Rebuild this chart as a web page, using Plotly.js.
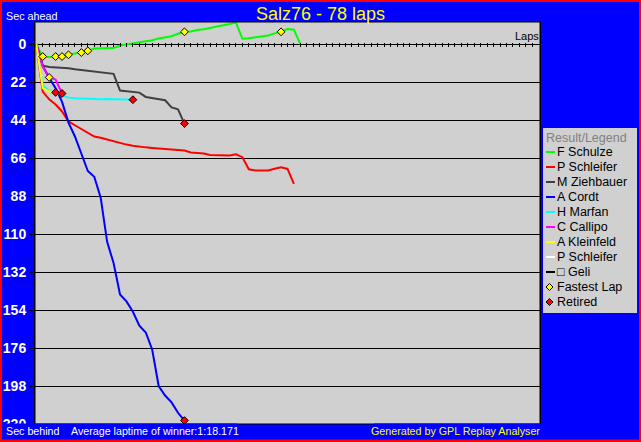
<!DOCTYPE html>
<html><head><meta charset="utf-8">
<script src="https://cdn.plot.ly/plotly-3.0.1.min.js"></script>
<style>html,body{margin:0;padding:0;background:#0000ff;overflow:hidden}#chart{width:641px;height:442px}</style>
</head><body><div id="chart"></div>
<script>
// ---------------- data (seconds behind the winner's average pace, per lap) ----------------
const driverNames  = ["F Schulze","P Schleifer","M Ziehbauer","A Cordt","H Marfan","C Callipo","A Kleinfeld","P Schleifer","\u25A1 Geli"];
const driverColors = ["#00ff00","#ff0000","#404040","#0000ff","#00ffff","#ff00ff","#ffff00","#ffffff","#000000"];

const fSchulze = [0,7.3,7.4,7.2,7.2,6.2,5.5,4.9,3.9,2.6,2.5,2.4,2.3,0.8,0.2,-0.6,-1.2,-1.5,-2.2,-3.3,-4.0,-4.6,-6.0,-7.1,-7.3,-8.2,-8.6,-9.3,-10.0,-10.6,-11.6,-12.5,-3.1,-3.4,-3.8,-4.4,-5.0,-6.2,-7.1,-8.7,-8.3,0];
const pSchleifer = [0,27.5,32,35,39,44.8,47,49.2,51.8,53.5,54.2,55.3,56.2,57.2,58.2,58.8,59.4,59.8,60.1,60.4,60.7,61.0,61.1,61.6,62.8,63.0,63.4,64.2,64.3,64.5,64.5,63.8,65.5,72.5,73.2,73.2,73.2,72.2,71.3,72.3,80.9];
const mZiehbauer = [0,12.5,13.3,13.4,13.5,14.0,14.6,15.1,15.6,16.0,16.4,16.8,17.2,26.9,27.4,27.8,28.1,30.6,31.2,31.7,32.5,36.7,37.8,46.0];
const aCordt     = [0,12.6,19.5,25.5,33.5,45.5,53.5,64,73.5,76.8,89,114.5,126.8,145,149,155,163,167,177,198,203.5,207.5,213.5,218];
const hMarfan    = [0,24,27,28,29.6,31,31.3,31.5,31.8,31.8,32,31.8,32,32.2,32.2,32.2];
const cCallipo   = [0,13,19.3,20.5,28.6];
const aKleinfeld = [0,25.5,27.5,28];
const pSchleifer2 = [0];
const geli       = [0];
const driverSeries = [fSchulze,pSchleifer,mZiehbauer,aCordt,hMarfan,cCallipo,aKleinfeld,pSchleifer2,geli];

const fastestLapLaps = [1,3,4,5,7,8,2,23,38];
const fastestLapSecs = [7.2,7.2,7.2,6.2,4.9,3.9,19.3,-7.1,-7.1];
const retiredLaps = [3,4,15,23,23];
const retiredSecs = [28,28.6,32.2,46,218];

const totalLaps = 78;
const yTickStep = 22;
const titleText = "Salz76 - 78 laps";
const avgLapText = "Average laptime of winner:1:18.171";

// ---------------- geometry ----------------
const W=641,H=442,ML=35,MR=101,MT=22,MB=18;
const PW=W-ML-MR, PH=H-MT-MB;
const px = x => (x-ML)/PW;
const py = y => (H-MB-y)/PH;
const Y0=220, Y1=-12.8;
const FONT = "Liberation Sans, Arial, sans-serif";

// ---------------- traces ----------------
const traces = driverSeries.map((s,i)=>({
  type:'scatter', mode:'lines', name:driverNames[i],
  x:s.map((_,k)=>k), y:s,
  line:{color:driverColors[i], width:2}, showlegend:false, hoverinfo:'skip'
}));
traces.push({type:'scatter',mode:'markers',name:'Fastest Lap',x:fastestLapLaps,y:fastestLapSecs,
  marker:{symbol:'diamond',size:6,color:'#ffff00',line:{color:'#000',width:1}},showlegend:false,hoverinfo:'skip'});
traces.push({type:'scatter',mode:'markers',name:'Retired',x:retiredLaps,y:retiredSecs,
  marker:{symbol:'diamond',size:6,color:'#ff0000',line:{color:'#000',width:1}},showlegend:false,hoverinfo:'skip'});

const lapTicks=[]; for(let l=1;l<totalLaps;l++) lapTicks.push(l);

// ---------------- shapes ----------------
const shapes=[];
const rectPx=(x0,y0,x1,y1,fill)=>({type:'rect',xref:'paper',yref:'paper',layer:'above',x0:px(x0),x1:px(x1),y0:py(y0),y1:py(y1),fillcolor:fill,line:{width:0}});
// plot frame
shapes.push({type:'rect',xref:'paper',yref:'paper',layer:'above',x0:0,x1:1,y0:0,y1:1,line:{color:'#000',width:1}});
// text background boxes at bottom
shapes.push(rectPx(0,423.6,237.5,439.5,'#0000ff'));
shapes.push(rectPx(374,423.6,541,439.5,'#0000ff'));
// red outer border
shapes.push(rectPx(0,0,641,2,'#ff0000'));
shapes.push(rectPx(0,439.5,641,442,'#ff0000'));
shapes.push(rectPx(0,0,2,442,'#ff0000'));
shapes.push(rectPx(639,0,641,442,'#ff0000'));
// legend box
shapes.push(rectPx(543,128,637,313,'#d0d0d0'));

const annotations=[];
const ann=(text,x,y,xa,color,size,extra)=>Object.assign({text,x:px(x),y:py(y),xref:'paper',yref:'paper',xanchor:xa,yanchor:'middle',showarrow:false,font:{family:FONT,size,color},borderpad:0},extra||{});
annotations.push(ann("Sec ahead",4.5,16,'left','#ffffff',10.8));
annotations.push(ann("Laps",539.5,36,'right','#000000',11));
annotations.push(ann("Sec behind",4.5,431,'left','#ffffff',10.7));
annotations.push(ann(avgLapText,70,431,'left','#ffffff',10.7));
annotations.push(ann("Generated by GPL Replay Analyser",541,431,'right','#ffff00',10.7));

// legend contents
const legTop=152, legStep=15, swX0=546, swX1=555, txtX=556;
annotations.push(ann("Result/Legend",545,138,'left','#808080',12.5));
driverNames.forEach((n,i)=>{
  const cy=legTop+i*legStep;
  shapes.push({type:'line',xref:'paper',yref:'paper',layer:'above',x0:px(swX0),x1:px(swX1),y0:py(cy),y1:py(cy),line:{color:driverColors[i],width:2}});
  annotations.push(ann(n,txtX,cy,'left','#000000',12.5));
});
const markerLegend=[["Fastest Lap","#ffff00"],["Retired","#ff0000"]];
markerLegend.forEach((m,j)=>{
  const cy=legTop+(driverNames.length+j)*legStep, cx=549.5, r=3.5;
  shapes.push({type:'path',xref:'paper',yref:'paper',layer:'above',
    path:`M${px(cx)},${py(cy-r)} L${px(cx+r)},${py(cy)} L${px(cx)},${py(cy+r)} L${px(cx-r)},${py(cy)} Z`,
    fillcolor:m[1],line:{color:'#000',width:1}});
  annotations.push(ann(m[0],txtX,cy,'left','#000000',12.5));
});

const zeroPos = (Y0-0)/(Y0-Y1) + 2/PH;

const layout={
  width:W,height:H,margin:{l:ML,r:MR,t:MT,b:MB,pad:0},
  paper_bgcolor:'#0000ff',plot_bgcolor:'#d0d0d0',
  showlegend:false,hovermode:false,
  title:{text:titleText,font:{family:FONT,size:18,color:'#ffff00'},x:0.5,xref:'container',y:1-13.5/H,yref:'container',yanchor:'middle'},
  xaxis:{range:[-0.2,totalLaps+0.2],anchor:'free',position:zeroPos,showline:false,showgrid:false,zeroline:false,
    tickmode:'array',tickvals:lapTicks,ticks:'outside',ticklen:4,tickwidth:1,tickcolor:'#000',showticklabels:false,fixedrange:true},
  yaxis:{range:[Y0,Y1],tickmode:'linear',tick0:0,dtick:yTickStep,showgrid:true,gridcolor:'#000',gridwidth:1,zeroline:false,
    showline:true,mirror:true,linecolor:'#000',linewidth:1,ticks:'outside',ticklen:5,tickwidth:1,tickcolor:'#000',
    tickfont:{family:FONT,size:14,color:'#ffffff',weight:'bold'},fixedrange:true},
  shapes,annotations
};
Plotly.newPlot('chart',traces,layout,{staticPlot:true,displayModeBar:false});
</script></body></html>
